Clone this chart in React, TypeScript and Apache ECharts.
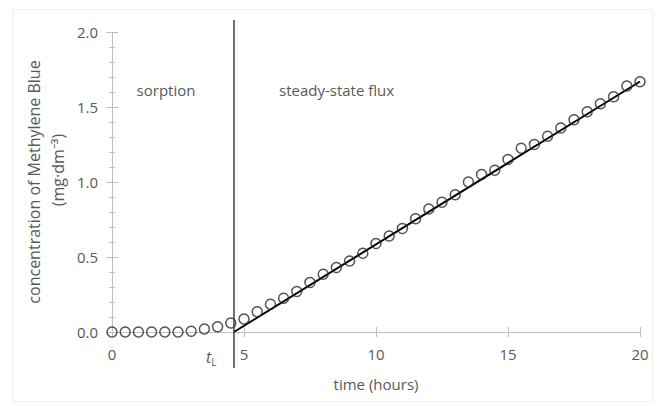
import React, { useEffect, useRef } from 'react';
import * as echarts from 'echarts';

const hours = [0, 0.5, 1, 1.5, 2, 2.5, 3, 3.5, 4, 4.5, 5, 5.5, 6, 6.5, 7, 7.5, 8, 8.5, 9, 9.5, 10,
  10.5, 11, 11.5, 12, 12.5, 13, 13.5, 14, 14.5, 15, 15.5, 16, 16.5, 17, 17.5, 18, 18.5, 19, 19.5, 20];
const concentration = [0, 0, 0, 0, 0, 0, 0.005, 0.02, 0.035, 0.06, 0.087, 0.135, 0.185, 0.225, 0.27, 0.33,
  0.385, 0.43, 0.473, 0.525, 0.59, 0.64, 0.69, 0.755, 0.82, 0.865, 0.915, 1.0, 1.05, 1.078, 1.15,
  1.225, 1.25, 1.305, 1.36, 1.415, 1.468, 1.522, 1.568, 1.64, 1.668];
const fitHours = [4.62, 20];
const fitConc = [0, 1.67];
const lagTime = 4.62;
const xRange = [0, 20];
const yRange = [0, 2];

const FONT = '"Open Sans", sans-serif';
const TEXT = '#595959';
const AXIS = '#bfbfbf';

export default function App() {
  const ref = useRef<HTMLDivElement>(null);
  useEffect(() => {
    if (!ref.current) return;
    const chart = echarts.init(ref.current, null, { renderer: 'svg' });
    const label = { color: TEXT, fontFamily: FONT, fontSize: 15 };
    chart.setOption({
      animation: false,
      backgroundColor: '#ffffff',
      grid: { left: 112, right: 16, top: 32, bottom: 73 },
      xAxis: [
        {
          type: 'value', min: xRange[0], max: xRange[1], interval: 5,
          axisLine: { show: true, lineStyle: { color: AXIS, width: 1 } },
          axisTick: { show: true, length: 5, lineStyle: { color: AXIS } },
          axisLabel: { ...label, margin: 14 },
          splitLine: { show: false },
          name: 'time (hours)', nameLocation: 'middle', nameGap: 44,
          nameTextStyle: { ...label },
        },
        {
          type: 'value', position: 'bottom', min: xRange[0], max: xRange[1], interval: 5,
          axisLine: { show: false },
          axisTick: { show: true, inside: true, length: 5, lineStyle: { color: AXIS } },
          axisLabel: { show: false }, splitLine: { show: false },
        },
      ],
      yAxis: [
        {
          type: 'value', min: yRange[0], max: yRange[1], interval: 0.5,
          axisLine: { show: true, lineStyle: { color: AXIS, width: 1 } },
          axisTick: { show: true, length: 6, lineStyle: { color: AXIS } },
          minorTick: { show: true, splitNumber: 5, length: 3, lineStyle: { color: AXIS } },
          axisLabel: { ...label, margin: 14, formatter: (v: number) => v.toFixed(1) },
          splitLine: { show: false },
        },
        {
          type: 'value', position: 'left', min: yRange[0], max: yRange[1], interval: 0.5,
          axisLine: { show: false },
          axisTick: { show: true, inside: true, length: 6, lineStyle: { color: AXIS } },
          minorTick: { show: true, splitNumber: 5, length: 3, lineStyle: { color: AXIS } },
          axisLabel: { show: false }, splitLine: { show: false },
        },
      ],
      series: [
        {
          type: 'line',
          data: fitHours.map((h, i) => [h, fitConc[i]]),
          showSymbol: false, symbol: 'none',
          lineStyle: { color: '#000000', width: 2 },
          z: 2,
        },
        {
          type: 'scatter',
          data: hours.map((h, i) => [h, concentration[i]]),
          symbol: 'circle', symbolSize: 10,
          itemStyle: { color: 'rgba(0,0,0,0)', borderColor: '#2a2a2a', borderWidth: 1.5 },
          z: 3,
        },
      ],
    });
    const px = chart.convertToPixel({ xAxisIndex: 0 }, lagTime) as number;
    chart.setOption({
      graphic: [
        {
          type: 'rect', shape: { x: 12.5, y: 9.5, width: 640, height: 392 },
          style: { fill: 'none', stroke: '#eeeeee', lineWidth: 1 }, silent: true, z: -1,
        },
        {
          type: 'line', shape: { x1: px, y1: 20, x2: px, y2: 368 },
          style: { stroke: '#404040', lineWidth: 1.5 }, z: 10,
        },
        {
          type: 'text', x: 166, y: 90,
          style: { text: 'sorption', fill: TEXT, font: `15px ${FONT}`, textAlign: 'center', textVerticalAlign: 'middle' },
        },
        {
          type: 'text', x: 279, y: 90,
          style: { text: 'steady-state flux', fill: TEXT, font: `15px ${FONT}`, textAlign: 'left', textVerticalAlign: 'middle' },
        },
        {
          type: 'text', x: px - 28, y: 357,
          style: {
            text: '{t|t}{s|L}', textAlign: 'left', textVerticalAlign: 'middle',
            rich: {
              t: { fontStyle: 'italic', fontSize: 16, fontFamily: FONT, fill: TEXT, color: TEXT },
              s: { fontSize: 10, fontFamily: FONT, fill: TEXT, color: TEXT, padding: [9, 0, 0, 0] },
            },
          },
        },
        {
          type: 'text', x: 34, y: 182, rotation: Math.PI / 2,
          style: { text: 'concentration of Methylene Blue', fill: TEXT, font: `16px ${FONT}`, textAlign: 'center', textVerticalAlign: 'middle' },
        },
        {
          type: 'text', x: 58, y: 170, rotation: Math.PI / 2,
          style: { text: '(mg·dm⁻³)', fill: TEXT, font: `16px ${FONT}`, textAlign: 'center', textVerticalAlign: 'middle' },
        },
      ],
    });
    return () => chart.dispose();
  }, []);
  return <div ref={ref} style={{ position: 'fixed', left: 0, top: 0, width: 656, height: 405 }} />;
}
